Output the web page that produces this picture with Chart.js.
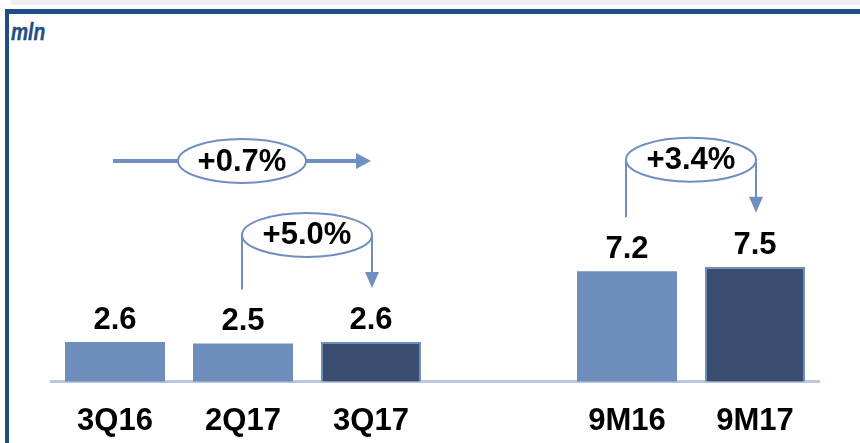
<!DOCTYPE html>
<html>
<head>
<meta charset="utf-8">
<script src="https://cdn.jsdelivr.net/npm/chart.js@4.4.0/dist/chart.umd.min.js"></script>
<style>
  body { margin: 0; width: 860px; height: 443px; overflow: hidden; background: #fff; position: relative; }
  #band { position: absolute; left: 11px; top: 0; right: 0; height: 5px; background: #efefef; }
  #frame { position: absolute; left: 5px; top: 9px; right: 0; bottom: 0;
           border-left: 4px solid #1f4e85; border-top: 5px solid #1f4e85; }
  #unit { position: absolute; left: 11px; top: 18px; color: #1f4e85; transform: scaleX(0.8); transform-origin: left top;
          font: italic bold 24px "Liberation Sans", sans-serif; -webkit-text-stroke: 0.4px #1f4e85; }
  canvas { position: absolute; left: 0; top: 0; }
</style>
</head>
<body>
<div id="band"></div>
<div id="frame"></div>
<div id="unit">mln</div>
<canvas id="chart" width="860" height="443"></canvas>
<script>
const categories = ['3Q16', '2Q17', '3Q17', '', '9M16', '9M17'];
const values = [2.6, 2.5, 2.6, null, 7.2, 7.5];
const isCurrent = [false, false, true, false, false, true];

// growth bubbles: label, from bar, to bar
const growthLabels = ['+0.7%', '+5.0%', '+3.4%'];
const growthFrom = [0, 1, 4];
const growthTo = [2, 2, 5];
const growthFlat = [true, false, false];

const LIGHT = '#6d8ebb';
const DARK = '#3a4e6f';
const ARROW = '#6f8fc0';
const FONT = '"Liberation Sans", Arial, sans-serif';

/* Value labels above bars + growth arrows */
const growthPlugin = {
  id: 'growth',
  afterDatasetsDraw(chart) {
    const ctx = chart.ctx;
    const bars = chart.getDatasetMeta(0).data;
    ctx.save();
    ctx.textAlign = 'center';
    ctx.fillStyle = '#000';
    ctx.font = 'bold 31px ' + FONT;
    ctx.textBaseline = 'alphabetic';
    bars.forEach((bar, i) => {
      if (values[i] == null) return;
      ctx.fillText(values[i].toFixed(1), bar.x, bar.y - 13);
    });

    ctx.strokeStyle = ARROW;
    ctx.fillStyle = ARROW;
    growthLabels.forEach((label, k) => {
      const a = bars[growthFrom[k]], b = bars[growthTo[k]];
      let cx, cy, rx, ry = 22;
      if (growthFlat[k]) {
        const x1 = a.x - 2, x2 = b.x;
        cy = 161;
        cx = (x1 + x2) / 2;
        rx = 64;
        ctx.lineWidth = 4;
        ctx.beginPath();
        ctx.moveTo(x1, cy);
        ctx.lineTo(x2 - 15, cy);
        ctx.stroke();
        ctx.beginPath();
        ctx.moveTo(x2 - 15, cy - 8);
        ctx.lineTo(x2, cy);
        ctx.lineTo(x2 - 15, cy + 8);
        ctx.closePath();
        ctx.fill();
      } else {
        const xa = a.x - 1, xb = b.x + 1;
        cy = Math.min(a.y, b.y) - 107;
        cx = (xa + xb) / 2;
        rx = (xb - xa) / 2;
        ctx.lineWidth = 2;
        ctx.beginPath();
        ctx.moveTo(xa, cy);
        ctx.lineTo(xa, a.y - 54);
        ctx.moveTo(xb, cy);
        ctx.lineTo(xb, b.y - 69);
        ctx.stroke();
        ctx.beginPath();
        ctx.moveTo(xb - 7, b.y - 70);
        ctx.lineTo(xb + 7, b.y - 70);
        ctx.lineTo(xb, b.y - 54);
        ctx.closePath();
        ctx.fill();
      }
      ctx.beginPath();
      ctx.ellipse(cx, cy, rx, ry, 0, 0, Math.PI * 2);
      ctx.fillStyle = '#fff';
      ctx.fill();
      ctx.lineWidth = 2;
      ctx.stroke();
      ctx.fillStyle = '#000';
      ctx.font = 'bold 31px ' + FONT;
      ctx.textBaseline = 'middle';
      ctx.fillText(label, cx, cy + 1);
      ctx.fillStyle = ARROW;
    });
    ctx.restore();
  }
};

new Chart(document.getElementById('chart'), {
  type: 'bar',
  data: {
    labels: categories,
    datasets: [{
      data: values,
      backgroundColor: isCurrent.map(c => c ? DARK : LIGHT),
      borderColor: LIGHT,
      borderWidth: isCurrent.map(c => c ? 2 : 0),
      borderSkipped: 'bottom',
      categoryPercentage: 100 / 128,
      barPercentage: 1
    }]
  },
  options: {
    responsive: false,
    animation: false,
    layout: { padding: { left: 51, right: 41, top: 75, bottom: -18 } },
    plugins: { legend: { display: false }, tooltip: { enabled: false } },
    scales: {
      x: {
        grid: { display: false, drawTicks: false },
        border: { display: true, color: '#b9c7e0', width: 3 },
        ticks: { color: '#000', padding: 21, font: { family: FONT, size: 31, weight: 'bold' } }
      },
      y: {
        display: false,
        min: 0,
        max: 20
      }
    }
  },
  plugins: [growthPlugin]
});
</script>
</body>
</html>
